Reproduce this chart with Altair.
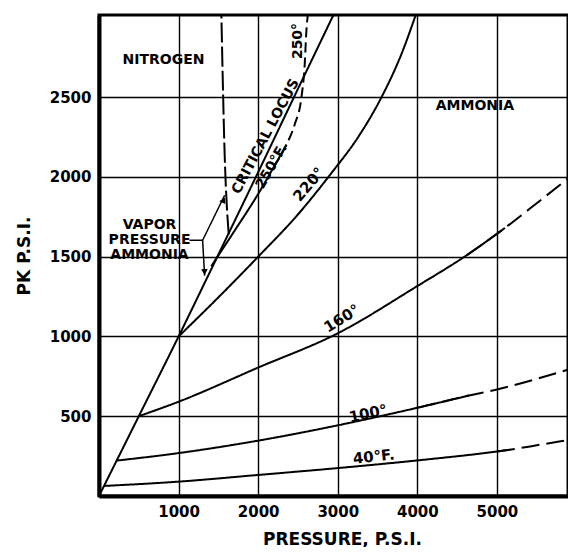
import altair as alt
import pandas as pd

# ---------------- data ----------------
x_ticks = [1000, 2000, 3000, 4000, 5000]
y_ticks = [500, 1000, 1500, 2000, 2500]

# nitrogen boundary / critical locus (one diagonal line)
diag_x = [0, 500, 1000, 1380, 2000, 2450, 2960]
diag_y = [0, 500, 1000, 1390, 2030, 2500, 3030]

t40_x = [63, 1000, 2000, 3000, 4000, 5000, 5160]
t40_y = [63, 90, 132, 175, 223, 279, 290]
t40d_x = [5000, 5160, 5550, 5977]
t40d_y = [279, 290, 322, 357]

t100_x = [225, 1000, 2000, 3000, 4000, 4650]
t100_y = [222, 269, 347, 443, 553, 630]
t100d_x = [4000, 4650, 5000, 5977]
t100d_y = [553, 630, 668, 805]

t160_x = [500, 1000, 2000, 3000, 4000, 4620, 5100]
t160_y = [500, 591, 805, 1020, 1316, 1509, 1680]
t160d_x = [4620, 5100, 5500, 5977]
t160d_y = [1509, 1680, 1835, 2024]

t220_x = [1000, 1500, 2000, 2500, 2920, 3250, 3550, 3800, 3990]
t220_y = [1000, 1245, 1500, 1765, 2024, 2245, 2500, 2770, 3030]

t250_x = [1410, 1700, 2019, 2200, 2355]
t250_y = [1440, 1660, 1909, 2066, 2202]
t250d_x = [2200, 2355, 2459, 2543, 2585, 2606, 2627]
t250d_y = [2066, 2202, 2329, 2497, 2707, 2917, 3030]

vap_x = [1630, 1579, 1537]
vap_y = [1640, 2140, 3030]

label_text = ["NITROGEN", "AMMONIA", "VAPOR\nPRESSURE\nAMMONIA", "CRITICAL LOCUS",
              "250°F.", "250°", "220°", "160°", "100°", "40°F."]
label_x = [811, 4723, 635, 2094, 2170, 2497, 2635, 3050, 3381, 3453]
label_y = [2730, 2447, 1701, 2253, 2066, 2852, 1953, 1113, 517, 247]
label_angle = [0, 0, 0, 298, 300, 270, 310, 328, 348, 354]
label_size = [14, 14, 14, 14, 14, 14, 15, 15, 15, 15]

# bracket/arrows of the "vapor pressure ammonia" note
arrow_x1 = [1138, 1302, 1302]
arrow_y1 = [1603, 1603, 1603]
arrow_x2 = [1302, 1579, 1327]
arrow_y2 = [1603, 1885, 1381]
head_x = [1560, 1326]
head_y = [1850, 1410]
head_angle = [26, 177]

# ---------------- tables ----------------
segments = [
    ("diag", "solid", diag_x, diag_y),
    ("t40", "solid", t40_x, t40_y),
    ("t40d", "long", t40d_x, t40d_y),
    ("t100", "solid", t100_x, t100_y),
    ("t100d", "long", t100d_x, t100d_y),
    ("t160", "solid", t160_x, t160_y),
    ("t160d", "long", t160d_x, t160d_y),
    ("t220", "solid", t220_x, t220_y),
    ("t250", "solid", t250_x, t250_y),
    ("t250d", "med", t250d_x, t250d_y),
    ("vap", "vap", vap_x, vap_y),
]
rows = []
for name, style, xs, ys in segments:
    for i, (xv, yv) in enumerate(zip(xs, ys)):
        rows.append({"seg": name, "style": style, "o": i, "x": xv, "y": yv})
lines_df = pd.DataFrame(rows)

labels_df = pd.DataFrame({"t": label_text, "x": label_x, "y": label_y,
                          "a": label_angle, "s": label_size})
arrows_df = pd.DataFrame({"x": arrow_x1, "y": arrow_y1, "x2": arrow_x2, "y2": arrow_y2})
heads_df = pd.DataFrame({"x": head_x, "y": head_y, "a": head_angle})

FONT = "DejaVu Sans"

x_enc = alt.X("x:Q", scale=alt.Scale(domain=[0, 5893], nice=False, zero=False),
              axis=alt.Axis(values=x_ticks, format="d", title="PRESSURE, P.S.I.",
                            grid=True, ticks=False, labelPadding=8, titlePadding=12,
                            titleX=243, titleAlign="center"))
y_enc = alt.Y("y:Q", scale=alt.Scale(domain=[0, 3015], nice=False, zero=False),
              axis=alt.Axis(values=y_ticks, format="d", title="PK P.S.I.",
                            grid=True, ticks=False, labelPadding=8, titlePadding=16))

lines = alt.Chart(lines_df).mark_line(color="black", strokeWidth=2, clip=True,
                                      interpolate="monotone").encode(
    x=x_enc, y=y_enc,
    detail="seg:N",
    order="o:Q",
    strokeDash=alt.StrokeDash("style:N", legend=None,
                              scale=alt.Scale(domain=["solid", "long", "med", "vap"],
                                              range=[[1, 0], [18, 7], [10, 5], [20, 4]])),
)

texts = alt.Chart(labels_df).mark_text(font=FONT, fontWeight="bold", color="black",
                                       lineBreak="\n", lineHeight=15,
                                       align="center", baseline="middle").encode(
    x=x_enc, y=y_enc, text="t:N",
    angle=alt.Angle("a:Q", scale=None),
    size=alt.Size("s:Q", scale=None),
)

arrows = alt.Chart(arrows_df).mark_rule(color="black", strokeWidth=1.5).encode(
    x=x_enc, y=y_enc, x2="x2:Q", y2="y2:Q")

heads = alt.Chart(heads_df).mark_point(shape="triangle", filled=True, color="black",
                                       size=45, opacity=1).encode(
    x=x_enc, y=y_enc, angle=alt.Angle("a:Q", scale=None))

chart = alt.layer(lines, arrows, heads, texts).properties(
    width=469, height=481,
    autosize=alt.AutoSizeParams(type="none"),
    padding={"left": 91, "top": 7, "right": 0, "bottom": 51},
).configure_view(
    stroke="black", strokeWidth=3
).configure_axis(
    domain=True, domainColor="black", domainWidth=4,
    gridColor="black", gridWidth=1.4, gridOpacity=1,
    labelFont=FONT, labelFontWeight="bold", labelFontSize=15, labelColor="black",
    titleFont=FONT, titleFontWeight="bold", titleFontSize=17, titleColor="black",
)

chart.save("out.html", embed_options={"renderer": "svg", "actions": False})
